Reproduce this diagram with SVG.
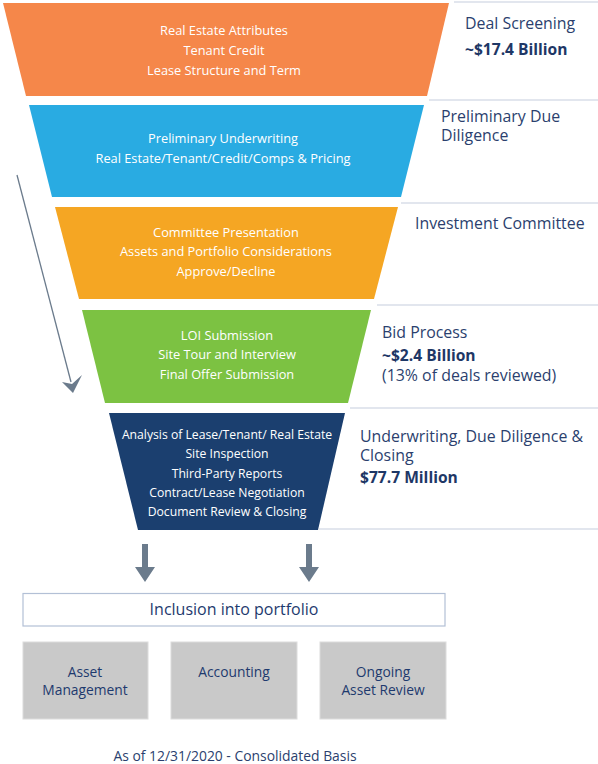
<svg xmlns="http://www.w3.org/2000/svg" width="598" height="764" viewBox="0 0 598 764">
<style>
.ft{font-family:"Open Sans","Liberation Sans",sans-serif;font-size:12.8px;fill:#ffffff;text-anchor:middle}
.fs{font-size:12.2px}
.lb{font-family:"Open Sans","Liberation Sans",sans-serif;font-size:15.9px;fill:#2b3f6e}
.lbb{font-family:"Open Sans","Liberation Sans",sans-serif;font-size:15.6px;font-weight:bold;fill:#1e3766}
.bx{font-family:"Open Sans","Liberation Sans",sans-serif;font-size:13.8px;fill:#1e3a6e;text-anchor:middle}
.sep{stroke:#d8dee8;stroke-width:1.5;fill:none}
.gb{fill:#c9c9c9;stroke:#dcdcdc;stroke-width:1}
.arr{fill:#6b7b8c}
</style>
<rect width="598" height="764" fill="#ffffff"/>
<g id="separators">
<line class="sep" x1="454" y1="2" x2="598" y2="2"/>
<line class="sep" x1="429" y1="100" x2="598" y2="100"/>
<line class="sep" x1="401" y1="203" x2="598" y2="203"/>
<line class="sep" x1="377" y1="305" x2="598" y2="305"/>
<line class="sep" x1="350" y1="408" x2="598" y2="408"/>
<line class="sep" x1="319" y1="529" x2="598" y2="529"/>
</g>
<g id="stage1">
<polygon points="3,3 449,3 427,96 26,96" fill="#f5874a"/>
<text class="ft" x="224" y="35">Real Estate Attributes</text>
<text class="ft" x="224" y="55">Tenant Credit</text>
<text class="ft" x="224" y="75">Lease Structure and Term</text>
<text class="lb" x="465" y="29">Deal Screening</text>
<text class="lbb" x="465" y="55">~$17.4 Billion</text>
</g>
<g id="stage2">
<polygon points="29,105 424,105 401,197 52,197" fill="#29abe2"/>
<text class="ft" x="223" y="143">Preliminary Underwriting</text>
<text class="ft" x="223" y="163">Real Estate/Tenant/Credit/Comps &amp; Pricing</text>
<text class="lb" x="441" y="122">Preliminary Due</text>
<text class="lb" x="441" y="141">Diligence</text>
</g>
<g id="stage3">
<polygon points="55,207 398,207 374,299 79,299" fill="#f5a623"/>
<text class="ft" x="226" y="237">Committee Presentation</text>
<text class="ft" x="226" y="256">Assets and Portfolio Considerations</text>
<text class="ft" x="226" y="276">Approve/Decline</text>
<text class="lb" x="415" y="229">Investment Committee</text>
</g>
<g id="stage4">
<polygon points="82,310 371,310 348,403 105,403" fill="#7cc242"/>
<text class="ft" x="227" y="340">LOI Submission</text>
<text class="ft" x="227" y="359">Site Tour and Interview</text>
<text class="ft" x="227" y="379">Final Offer Submission</text>
<text class="lb" x="382" y="338">Bid Process</text>
<text class="lbb" x="382" y="361">~$2.4 Billion</text>
<text class="lb" x="382" y="381">(13% of deals reviewed)</text>
</g>
<g id="stage5">
<polygon points="109,413 345,413 318,530 138,530" fill="#1b3f6f"/>
<text class="ft fs" x="227" y="439">Analysis of Lease/Tenant/ Real Estate</text>
<text class="ft fs" x="227" y="458">Site Inspection</text>
<text class="ft fs" x="227" y="478">Third-Party Reports</text>
<text class="ft fs" x="227" y="497">Contract/Lease Negotiation</text>
<text class="ft fs" x="227" y="516">Document Review &amp; Closing</text>
<text class="lb" x="360" y="442">Underwriting, Due Diligence &amp;</text>
<text class="lb" x="360" y="461">Closing</text>
<text class="lbb" x="360" y="483">$77.7 Million</text>
</g>
<g id="connectors">
<line x1="17" y1="175" x2="71" y2="382" stroke="#6b7b8c" stroke-width="1.3"/>
<polygon class="arr" points="62,382 72,384 82,375 73,393"/>
<polygon class="arr" points="142,544 148,544 148,567 155,567 145,582 135,567 142,567"/>
<polygon class="arr" points="306,544 312,544 312,567 319,567 309,582 299,567 306,567"/>
</g>
<g id="inclusion">
<rect x="23" y="593.5" width="422" height="32.5" fill="#ffffff" stroke="#b3c0d6" stroke-width="1.2"/>
<text class="bx" x="234" y="615" style="font-size:16px">Inclusion into portfolio</text>
</g>
<g id="asset-management">
<rect class="gb" x="23" y="642" width="125" height="77"/>
<text class="bx" x="85" y="677">Asset</text>
<text class="bx" x="85" y="695">Management</text>
</g>
<g id="accounting">
<rect class="gb" x="171" y="642" width="126" height="77"/>
<text class="bx" x="234" y="677">Accounting</text>
</g>
<g id="ongoing-review">
<rect class="gb" x="320" y="642" width="126" height="77"/>
<text class="bx" x="383" y="677">Ongoing</text>
<text class="bx" x="383" y="695">Asset Review</text>
</g>
<text x="235" y="761" font-family="Open Sans, Liberation Sans, sans-serif" font-size="13.9" fill="#2b3f6e" text-anchor="middle">As of 12/31/2020 - Consolidated Basis</text>
</svg>
